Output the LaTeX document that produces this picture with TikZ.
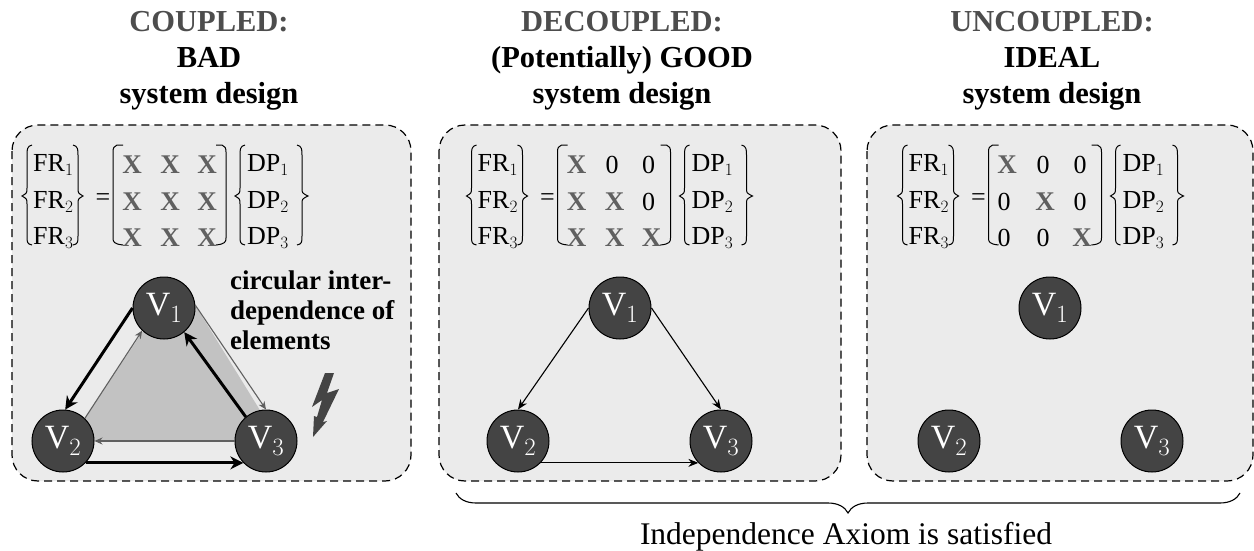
\documentclass[tikz,border=0pt]{standalone}
\usepackage{fontspec}
\setmainfont{Liberation Serif}
\usetikzlibrary{arrows.meta,decorations.pathreplacing}
\definecolor{panelgray}{HTML}{EBEBEB}
\definecolor{vertexgray}{HTML}{444444}
\definecolor{xgray}{HTML}{606060}
\definecolor{trianglegray}{HTML}{C2C2C2}
\tikzset{>=Stealth,
  panel/.style={draw,dash pattern=on 8pt off 5pt,line width=1.2pt,fill=panelgray,rounded corners=26pt},
  vertex/.style={circle,draw,line width=1pt,fill=vertexgray,text=white,minimum size=62pt,inner sep=0pt,font=\fontsize{34}{34}\selectfont},
  title/.style={align=center,font=\fontsize{30.5}{36}\selectfont\bfseries},
  entry/.style={font=\fontsize{26}{26}\selectfont},
  xentry/.style={text=xgray,font=\fontsize{27}{27}\selectfont\bfseries},
  thick arrow/.style={->,line width=3pt,>={Stealth[length=13pt,width=13pt]}},
  thin gray/.style={->,line width=1.1pt,draw=xgray,>={Stealth[length=8pt,width=7pt]}},
  thin black/.style={->,line width=1.1pt,>={Stealth[length=10pt,width=8pt]}},
  delim/.style={line width=1pt}}
% vectors and brackets of one equation, #1 is the x shift
\newcommand{\designeq}[1]{%
  \begin{scope}[xshift=#1pt]
    \foreach \r/\y in {1/165,2/202,3/238} {
      \node[entry,anchor=west,inner sep=0pt] (fr\r) at (33,\y) {FR$_{\r}$};
      \node[entry,anchor=west,inner sep=0pt] (dp\r) at (247,\y) {DP$_{\r}$};
    }
    \node[entry] (eq) at (103,200) {=};
    % left and right braces
    \draw[delim] (32,145) .. controls (27,146) and (27,150) .. (27,155) -- (27,188) .. controls (27,193) .. (22,196) .. controls (27,199) .. (27,204) -- (27,236) .. controls (27,242) and (27,244) .. (32,245);
    \draw[delim] (73,145) .. controls (78,146) and (78,150) .. (78,155) -- (78,188) .. controls (78,193) .. (83,196) .. controls (78,199) .. (78,204) -- (78,236) .. controls (78,242) and (78,244) .. (73,245);
    \draw[delim] (245,145) .. controls (240,146) and (240,150) .. (240,155) -- (240,188) .. controls (240,193) .. (235,196) .. controls (240,199) .. (240,204) -- (240,236) .. controls (240,242) and (240,244) .. (245,245);
    \draw[delim] (297,145) .. controls (302,146) and (302,150) .. (302,155) -- (302,188) .. controls (302,193) .. (308,196) .. controls (302,199) .. (302,204) -- (302,236) .. controls (302,242) and (302,244) .. (297,245);
    % square brackets
    \draw[delim] (123,145) -- (117,145) .. controls (114,146) and (113,148) .. (113,152) -- (113,238) .. controls (113,242) and (114,244) .. (123,245);
    \draw[delim] (216,145) -- (222,145) .. controls (225,146) and (226,148) .. (226,152) -- (226,238) .. controls (226,242) and (225,244) .. (216,245);
  \end{scope}}

\begin{document}
\begin{tikzpicture}[x=1pt,y=-1pt]
    \useasboundingbox (0,0) rectangle (1254,551);

    \draw[panel] (12,125) rectangle (411,481);
    \draw[panel] (439,125) rectangle (841,481);
    \draw[panel] (867,125) rectangle (1253,481);

    \node[title] (t1) at (209,61) {\textcolor{xgray!80!black}{COUPLED:}\\BAD\\system design};
    \node[title] (t2) at (622,61) {\textcolor{xgray!80!black}{DECOUPLED:}\\(Potentially) GOOD\\system design};
    \node[title] (t3) at (1052,61) {\textcolor{xgray!80!black}{UNCOUPLED:}\\IDEAL\\system design};

    \designeq{0}
    \designeq{444.5}
    \designeq{875.5}

    % coupled matrix
    \foreach \y in {165,202,238}
      \foreach \x in {132,170,207}
        \node[xentry] at (\x,\y) {X};

    % decoupled matrix
    \node[xentry] at (576.5,165) {X};
    \node[entry] at (612,165) {0};
    \node[entry] at (648.5,165) {0};
    \node[xentry] at (576.5,202) {X};
    \node[xentry] at (614.5,202) {X};
    \node[entry] at (648.5,202) {0};
    \node[xentry] at (576.5,238) {X};
    \node[xentry] at (614.5,238) {X};
    \node[xentry] at (651.5,238) {X};

    % uncoupled matrix
    \node[xentry] at (1007,165) {X};
    \node[entry] at (1043,165) {0};
    \node[entry] at (1080,165) {0};
    \node[entry] at (1004,202) {0};
    \node[xentry] at (1045,202) {X};
    \node[entry] at (1080,202) {0};
    \node[entry] at (1004,238) {0};
    \node[entry] at (1043,238) {0};
    \node[xentry] at (1082,238) {X};

    % coupled graph
    \fill[trianglegray] (164,300) -- (195,305) -- (266,420) -- (236,441) -- (85,441) -- (85,418) -- cycle;
    \node[vertex] (a1) at (164,308) {V$_1$};
    \node[vertex] (a2) at (63,441) {V$_2$};
    \node[vertex] (a3) at (266,441) {V$_3$};
    \draw[thick arrow] (a1.180) -- (a2.86);
    \draw[thick arrow] (a3.130) -- (a1.310);
    \draw[thick arrow] (a2.316) -- (a3.224);
    \draw[thin gray] (a2.46) -- (a1.226);
    \draw[thin gray] (a1.5) -- (a3.90);
    \draw[thin gray] (a3.180) -- (a2.0);
    \node[anchor=north west,align=left,inner sep=0pt,font=\fontsize{27}{30}\selectfont\bfseries] (note) at (230,271) {circular inter-\\dependence of\\elements};
    \fill[vertexgray] (325,373) -- (334,373) -- (327,393) -- (339,389) -- (323,422) -- (327,421) -- (313,437) -- (314,416) -- (317,417) -- (322,400) -- (312,407) -- cycle;

    % decoupled graph
    \node[vertex] (b1) at (620,308) {V$_1$};
    \node[vertex] (b2) at (518,441) {V$_2$};
    \node[vertex] (b3) at (721,441) {V$_3$};
    \draw[thin black] (b1.180) -- (b2.90);
    \draw[thin black] (b1.0) -- (b3.90);
    \draw[thin black] (b2.316) -- (b3.224);

    % uncoupled graph
    \node[vertex] (c1) at (1050,308) {V$_1$};
    \node[vertex] (c2) at (949,441) {V$_2$};
    \node[vertex] (c3) at (1152,441) {V$_3$};

    \coordinate (bl) at (456,493);
    \coordinate (br) at (1240,493);
    \draw[line width=1.1pt,decorate,decoration={brace,mirror,amplitude=20pt,aspect=0.5}] (bl) -- (br);
    \node[font=\fontsize{31.5}{32}\selectfont] (axiom) at (846,537) {Independence Axiom is satisfied};
  \end{tikzpicture}
\end{document}
